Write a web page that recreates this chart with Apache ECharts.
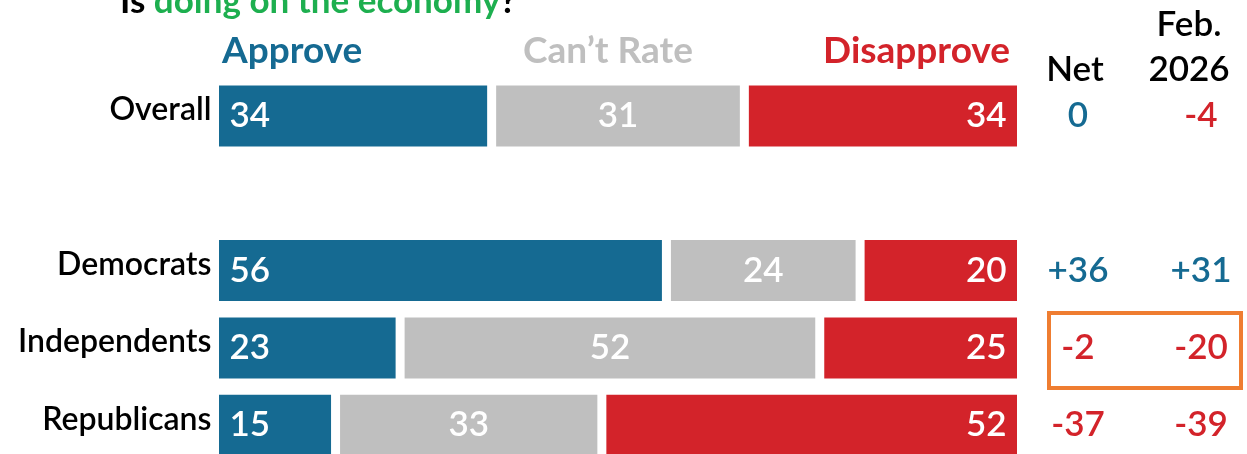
<!DOCTYPE html>
<html>
<head>
<meta charset="utf-8">
<script src="https://cdn.jsdelivr.net/npm/echarts@6/dist/echarts.min.js"></script>
<style>
html,body{margin:0;padding:0;background:#fff;}
#chart{width:1247px;height:454px;}
</style>
</head>
<body>
<div id="chart"></div>
<script>
var categories=['Overall','','Democrats','Independents','Republicans'];
var seriesNames=['Approve','Can\u2019t Rate','Disapprove'];
var approve=[34,null,56,23,15];
var cantRate=[31,null,24,52,33];
var disapprove=[34,null,20,25,52];
var net=[0,null,36,-2,-37];
var feb2026=[-4,null,31,-20,-39];
var columns=['Net','Feb.\n2026'];

var BLUE='#156a92',GREY='#bfbfbf',RED='#d3232a',GREEN='#1daf4f',ORANGE='#ef7d31';
var FONT='Lato';

// each row is stretched to the full width, like the original
function share(arr,i){
    if(arr[i]==null)return '-';
    var sum=approve[i]+cantRate[i]+disapprove[i];
    return {value:arr[i]/sum*100,raw:arr[i]};
}
function rowData(arr){
    var out=[];
    for(var i=0;i<arr.length;i++)out.push(share(arr,i));
    return out;
}
function signed(v){return v>0?'+'+v:''+v;}
function colData(arr,col){
    var out=[];
    for(var i=0;i<arr.length;i++){
        if(arr[i]==null)continue;
        out.push({value:[col,i],label:{formatter:signed(arr[i]),color:arr[i]<0?RED:BLUE}});
    }
    return out;
}
function barSeries(name,arr,color,pos){
    return {
        name:name,type:'bar',stack:'all',xAxisIndex:0,yAxisIndex:0,
        barWidth:70,
        data:rowData(arr),
        itemStyle:{color:color,borderColor:'#fff',borderWidth:4.5},
        label:{show:true,position:pos,distance:15,color:'#fff',fontFamily:FONT,fontWeight:600,fontSize:35,
            formatter:function(p){return p.data.raw;}},
        emphasis:{disabled:true}
    };
}
function colSeries(arr,col){
    return {
        type:'scatter',xAxisIndex:1,yAxisIndex:1,symbolSize:0,
        itemStyle:{opacity:1},
        data:colData(arr,col),
        label:{show:true,position:'inside',fontFamily:FONT,fontWeight:600,fontSize:35},
        emphasis:{disabled:true}
    };
}

var chart=echarts.init(document.getElementById('chart'));
chart.setOption({
    animation:false,
    grid:[
        {left:214.5,width:807,top:116,height:309.2,outerBoundsMode:'none'},
        {left:1078,width:123,top:116,height:309.2,outerBoundsMode:'none'}
    ],
    xAxis:[
        {type:'value',gridIndex:0,min:0,max:100,show:false},
        {type:'value',gridIndex:1,min:0,max:1,interval:1,position:'top',
            splitLine:{show:false},axisLine:{show:false},axisTick:{show:false},
            axisLabel:{showMinLabel:true,showMaxLabel:true,margin:24,color:'#000',
                formatter:function(v){var t=columns[v];return v==1?'{f|'+t.replace('\n','}\n{f|')+'}':'{n|'+t+'}';},
                rich:{
                    n:{fontFamily:FONT,fontWeight:600,fontSize:35,color:'#000',lineHeight:45,padding:[0,6,0,0]},
                    f:{fontFamily:FONT,fontWeight:600,fontSize:35,color:'#000',lineHeight:45,padding:[0,24,0,0]}}}}
    ],
    yAxis:[
        {type:'category',gridIndex:0,data:categories,inverse:true,boundaryGap:false,
            axisLine:{show:false},axisTick:{show:false},
            axisLabel:{margin:3,formatter:function(v){return v?'{c|'+v+'}':'';},
                rich:{c:{fontFamily:FONT,fontWeight:600,fontSize:32,color:'#000',padding:[0,0,12,0]}}}},
        {type:'category',gridIndex:1,data:categories,inverse:true,boundaryGap:false,show:false}
    ],
    series:[
        barSeries(seriesNames[0],approve,BLUE,'insideLeft'),
        barSeries(seriesNames[1],cantRate,GREY,'inside'),
        barSeries(seriesNames[2],disapprove,RED,'insideRight'),
        colSeries(net,0),
        colSeries(feb2026,1)
    ],
    graphic:[
        {type:'text',left:120,top:-16,style:{
            text:'{k|Is }{g|doing on the economy}{k|?}',
            rich:{k:{fontFamily:FONT,fontWeight:'bold',fontSize:35,fill:'#000'},
                g:{fontFamily:FONT,fontWeight:'bold',fontSize:35,fill:GREEN}}}},
        {type:'text',x:222,y:70,style:{text:seriesNames[0],fill:BLUE,fontFamily:FONT,fontWeight:'bold',fontSize:37,textAlign:'left',textVerticalAlign:'bottom'}},
        {type:'text',x:608,y:70,style:{text:seriesNames[1],fill:GREY,fontFamily:FONT,fontWeight:'bold',fontSize:37,textAlign:'center',textVerticalAlign:'bottom'}},
        {type:'text',x:1010,y:70,style:{text:seriesNames[2],fill:RED,fontFamily:FONT,fontWeight:'bold',fontSize:37,textAlign:'right',textVerticalAlign:'bottom'}},
        {type:'rect',shape:{x:1049,y:313,width:192,height:75},style:{fill:'none',stroke:ORANGE,lineWidth:4}}
    ]
});
</script>
</body>
</html>
